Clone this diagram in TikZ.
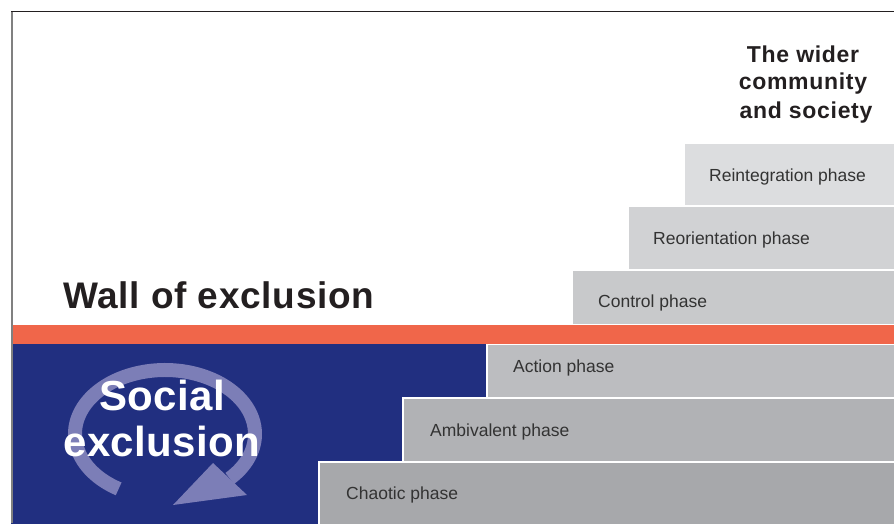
\documentclass[tikz,border=0pt]{standalone}
\usepackage{fontspec}
\setmainfont{Liberation Sans}
\newfontfamily\wallfont[LetterSpace=2]{Liberation Sans}
\newfontfamily\towerfont[LetterSpace=3]{Liberation Sans}
\newfontfamily\socialfont[LetterSpace=1]{Liberation Sans}
\definecolor{exblue}{RGB}{33,47,128}
\definecolor{exorange}{RGB}{240,102,74}
\definecolor{ringcol}{RGB}{124,126,183}
\definecolor{labelgray}{RGB}{51,51,51}
\definecolor{headdark}{RGB}{35,31,32}
\definecolor{framegray}{RGB}{128,128,128}
\definecolor{sA}{RGB}{167,168,171}
\definecolor{sB}{RGB}{177,178,181}
\definecolor{sC}{RGB}{188,189,192}
\definecolor{sD}{RGB}{200,201,203}
\definecolor{sE}{RGB}{209,210,212}
\definecolor{sF}{RGB}{220,221,223}
\begin{document}
\begin{tikzpicture}[x=1pt,y=1pt,
  stepbox/.style={draw=white,line width=2pt},
  steplabel/.style={anchor=base west,inner sep=0pt,text=labelgray,font=\fontsize{17.5}{20}\selectfont},
  towerlabel/.style={anchor=base,inner sep=0pt,text=headdark,font=\fontsize{23}{28}\towerfont\bfseries},
  sociallabel/.style={anchor=base,inner sep=0pt,text=white,font=\fontsize{42}{47}\socialfont\bfseries}]
\useasboundingbox (0,0) rectangle (894,523);
\clip (0,0) rectangle (894,523);
% blue region
\fill[exblue] (11,-5) rectangle (487,179);
% steps
\path[stepbox,fill=sA] (318.5,-5) rectangle (900,61);
\path[stepbox,fill=sB] (402.5,61) rectangle (900,125);
\path[stepbox,fill=sC] (487,125) rectangle (900,179);
\path[stepbox,fill=sD] (571.5,198) rectangle (900,253);
\path[stepbox,fill=sE] (627.5,253) rectangle (900,316.5);
\path[stepbox,fill=sF] (683.5,316.5) rectangle (900,380);
% orange wall
\fill[exorange] (11,179) rectangle (900,198);
% circular arrow
\coordinate (ringstart) at (118.65,34.14);
\draw[ringcol,line width=14pt] (ringstart) arc[start angle=239,end angle=-44,x radius=90,y radius=64];
\coordinate (tipA) at (173,18);
\coordinate (tipB) at (213,60);
\coordinate (tipC) at (247,28);
\fill[ringcol] (tipA) -- (tipB) -- (tipC) -- cycle;
% frame
\draw[framegray,line width=2pt] (12,0) -- (12,512);
\draw[headdark,line width=1.3pt] (11,511.5) -- (894,511.5);
% labels
\node[steplabel] (chaotic) at (346,24) {Chaotic phase};
\node[steplabel] (ambivalent) at (430,87) {Ambivalent phase};
\node[steplabel] (action) at (513,150.7) {Action phase};
\node[steplabel] (control) at (598,215.3) {Control phase};
\node[steplabel] (reorient) at (653,278.7) {Reorientation phase};
\node[steplabel] (reinteg) at (709,341) {Reintegration phase};
\node[anchor=base west,inner sep=0pt,text=headdark,font=\fontsize{37}{40}\wallfont\bfseries] (wall) at (63,214.5) {Wall of exclusion};
\node[towerlabel] (tw1) at (803,460.7) {The wider};
\node[towerlabel] (tw2) at (803,433) {community};
\node[towerlabel] (tw3) at (806,404.7) {and society};
\node[sociallabel] (soc1) at (162,113) {Social};
\node[sociallabel] (soc2) at (162,66.3) {exclusion};
\end{tikzpicture}
\end{document}
